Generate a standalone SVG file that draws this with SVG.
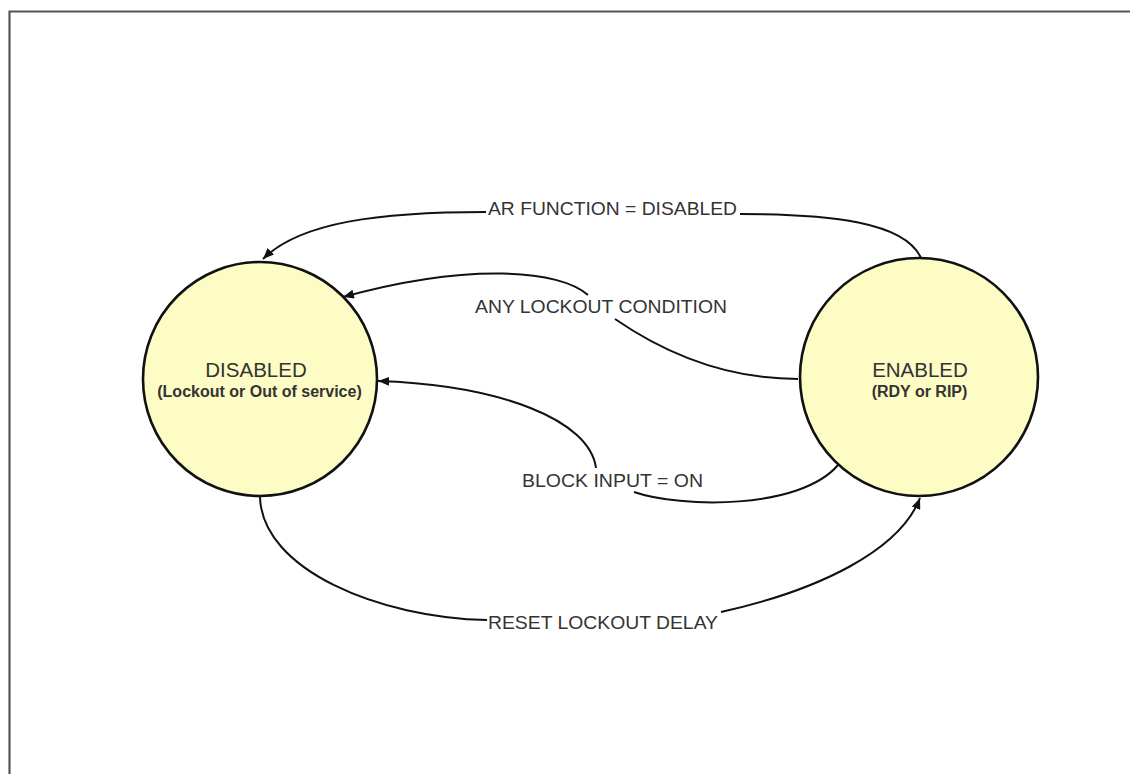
<svg xmlns="http://www.w3.org/2000/svg" width="1130" height="774" viewBox="0 0 1130 774">
<style>
.frame{fill:none;stroke:#555;stroke-width:2.2}
.state{fill:#fdfcc4;stroke:#111;stroke-width:2.6}
.title{font-family:"Liberation Sans",Arial,sans-serif;font-size:20.5px;fill:#333;text-anchor:middle}
.sub{font-family:"Liberation Sans",Arial,sans-serif;font-size:16px;font-weight:bold;fill:#333;text-anchor:middle}
.lbl{font-family:"Liberation Sans",Arial,sans-serif;font-size:19px;fill:#333}
.edge{fill:none;stroke:#111;stroke-width:2}
</style>
<defs>
<marker id="arr" markerUnits="userSpaceOnUse" markerWidth="12" markerHeight="9" refX="11" refY="4.5" orient="auto">
<path d="M0,0 L11,4.5 L0,9 z" fill="#111"/>
</marker>
</defs>
<rect x="0" y="0" width="1130" height="774" fill="#fff"/>
<path class="frame" d="M9.5 774 V11.5 H1130"/>
<g id="connectors">
<path class="edge" d="M921 258 C905 222, 830 214, 740 214"/>
<path class="edge" d="M486 212 C380 212, 300 222, 263 259" marker-end="url(#arr)"/>
<path class="edge" d="M798 379 C720 379, 660 350, 615 319"/>
<path class="edge" d="M588 295 C560 270, 470 262, 343 297" marker-end="url(#arr)"/>
<path class="edge" d="M838 465 C800 510, 680 508, 634 492"/>
<path class="edge" d="M596 468 C590 420, 500 385, 378 381" marker-end="url(#arr)"/>
<path class="edge" d="M260 497 C262 570, 380 618, 487 620"/>
<path class="edge" d="M721 612 C820 590, 900 550, 920 498" marker-end="url(#arr)"/>
</g>
<g id="labels">
<text class="lbl" x="488" y="215" textLength="249" lengthAdjust="spacingAndGlyphs">AR FUNCTION = DISABLED</text>
<text class="lbl" x="475" y="313" textLength="252" lengthAdjust="spacingAndGlyphs">ANY LOCKOUT CONDITION</text>
<text class="lbl" x="522" y="487" textLength="181" lengthAdjust="spacingAndGlyphs">BLOCK INPUT = ON</text>
<text class="lbl" x="488" y="629" textLength="230" lengthAdjust="spacingAndGlyphs">RESET LOCKOUT DELAY</text>
</g>
<g id="node-disabled">
<circle class="state" cx="260" cy="379" r="117"/>
<text class="title" x="256" y="377">DISABLED</text>
<text class="sub" x="259.5" y="397">(Lockout or Out of service)</text>
</g>
<g id="node-enabled">
<circle class="state" cx="919" cy="377" r="119"/>
<text class="title" x="920" y="377">ENABLED</text>
<text class="sub" x="919.5" y="397">(RDY or RIP)</text>
</g>
</svg>
